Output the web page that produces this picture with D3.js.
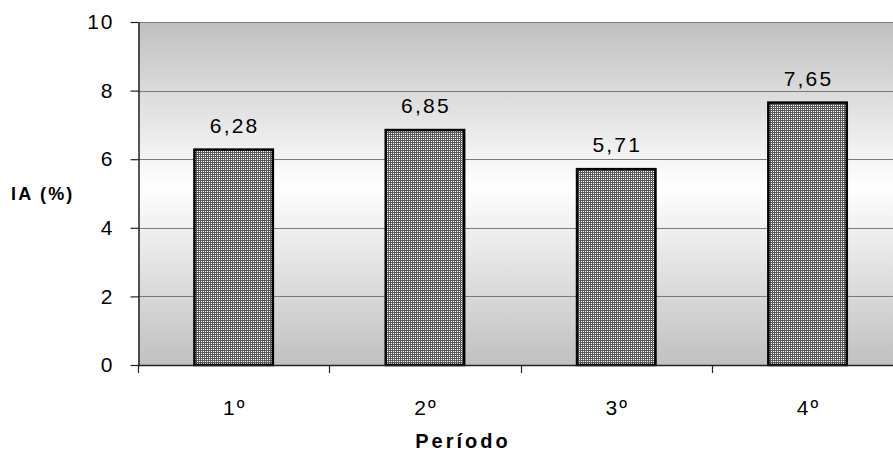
<!DOCTYPE html>
<html>
<head>
<meta charset="utf-8">
<script src="https://cdn.jsdelivr.net/npm/d3@7"></script>
<style>
  html, body { margin: 0; padding: 0; background: #fff; }
  svg { display: block; font-family: "Liberation Sans", Arial, sans-serif; }
</style>
</head>
<body>
<svg id="chart" width="893" height="457"></svg>
<script>
// Periods and index values (%)
const periods = ["1º", "2º", "3º", "4º"];
const values = [6.28, 6.85, 5.71, 7.65];
const yTicks = [0, 2, 4, 6, 8, 10];
const yLabel = "IA (%)";
const xLabel = "Período";

const svg = d3.select("#chart");
const plotLeft = 138, plotTop = 22, plotBottom = 365, step = 191.3;
const plotRight = plotLeft + step * periods.length;

const x = d3.scaleBand().domain(periods).range([plotLeft, plotRight]).paddingInner(0.59).paddingOuter(0.295);
const xb = d3.scaleBand().domain(periods).range([plotLeft, plotRight]);
const y = d3.scaleLinear().domain([0, 10]).range([plotBottom, plotTop]);

const defs = svg.append("defs");
// vertical shading of the plot area: grey at edges, white in the middle
const grad = defs.append("linearGradient").attr("id", "bg").attr("x1", 0).attr("y1", 0).attr("x2", 0).attr("y2", 1);
grad.append("stop").attr("offset", "0%").attr("stop-color", "#c0c0c0");
grad.append("stop").attr("offset", "48%").attr("stop-color", "#ffffff");
grad.append("stop").attr("offset", "100%").attr("stop-color", "#c0c0c0");

// small-grid hatch used to fill the bars
const pat = defs.append("pattern").attr("id", "grid").attr("width", 2).attr("height", 2)
  .attr("patternUnits", "userSpaceOnUse");
pat.append("rect").attr("width", 2).attr("height", 2).attr("fill", "#5a5a5a");
pat.append("rect").attr("x", 1).attr("y", 1).attr("width", 1).attr("height", 1).attr("fill", "#ffffff");

svg.append("rect").attr("x", plotLeft).attr("y", plotTop)
  .attr("width", plotRight - plotLeft).attr("height", plotBottom - plotTop)
  .attr("fill", "url(#bg)");

// horizontal gridlines
svg.append("g").selectAll("line").data(yTicks.filter(d => d > 0)).join("line")
  .attr("x1", plotLeft).attr("x2", plotRight)
  .attr("y1", d => Math.round(y(d)) + 0.5).attr("y2", d => Math.round(y(d)) + 0.5)
  .attr("stroke", "#7a7a7a").attr("stroke-width", 1.2);

// bars
svg.append("g").selectAll("rect").data(values).join("rect")
  .attr("x", (d, i) => x(periods[i]))
  .attr("width", x.bandwidth())
  .attr("y", d => y(d))
  .attr("height", d => plotBottom - y(d))
  .attr("fill", "url(#grid)")
  .attr("stroke", "#000").attr("stroke-width", 2.5);

// value labels
svg.append("g").selectAll("text").data(values).join("text")
  .attr("x", (d, i) => x(periods[i]) + x.bandwidth() / 2 + 1)
  .attr("y", d => y(d) - 17)
  .attr("text-anchor", "middle")
  .attr("font-size", 21).attr("letter-spacing", 2.2).attr("fill", "#000")
  .text(d => d.toFixed(2).replace(".", ","));

// y axis
const yAxis = svg.append("g").attr("transform", `translate(${plotLeft + 0.5},0)`)
  .call(d3.axisLeft(y).tickValues(yTicks).tickSize(8).tickSizeOuter(0).tickPadding(16)
    .tickFormat(d3.format("d")));
yAxis.select(".domain").attr("stroke", "#222").attr("stroke-width", 1.5);
yAxis.selectAll(".tick line").attr("stroke", "#222").attr("stroke-width", 1.2);
yAxis.selectAll(".tick text").attr("font-size", 21).attr("letter-spacing", 2)
  .attr("font-family", "Liberation Sans, Arial, sans-serif").attr("fill", "#000");

// x axis: line, tick marks between categories, labels centred
const xg = svg.append("g");
xg.append("line").attr("x1", plotLeft).attr("x2", plotRight)
  .attr("y1", plotBottom + 0.5).attr("y2", plotBottom + 0.5)
  .attr("stroke", "#222").attr("stroke-width", 1.5);
xg.selectAll("line.tk").data(periods).join("line").attr("class", "tk")
  .attr("x1", d => Math.round(xb(d)) + 0.5).attr("x2", d => Math.round(xb(d)) + 0.5)
  .attr("y1", plotBottom).attr("y2", plotBottom + 8)
  .attr("stroke", "#222").attr("stroke-width", 1.2);
xg.selectAll("text").data(periods).join("text")
  .attr("x", d => xb(d) + xb.bandwidth() / 2 + 1)
  .attr("y", plotBottom + 50)
  .attr("text-anchor", "middle").attr("font-size", 21).attr("letter-spacing", 2)
  .text(d => d);

// axis titles
svg.append("text").attr("x", 11).attr("y", 200).attr("font-size", 18).attr("font-weight", "bold")
  .attr("letter-spacing", 2.2).text(yLabel);
svg.append("text").attr("x", 463).attr("y", 448).attr("text-anchor", "middle")
  .attr("font-size", 20).attr("font-weight", "bold").attr("letter-spacing", 3).text(xLabel);
</script>
</body>
</html>
